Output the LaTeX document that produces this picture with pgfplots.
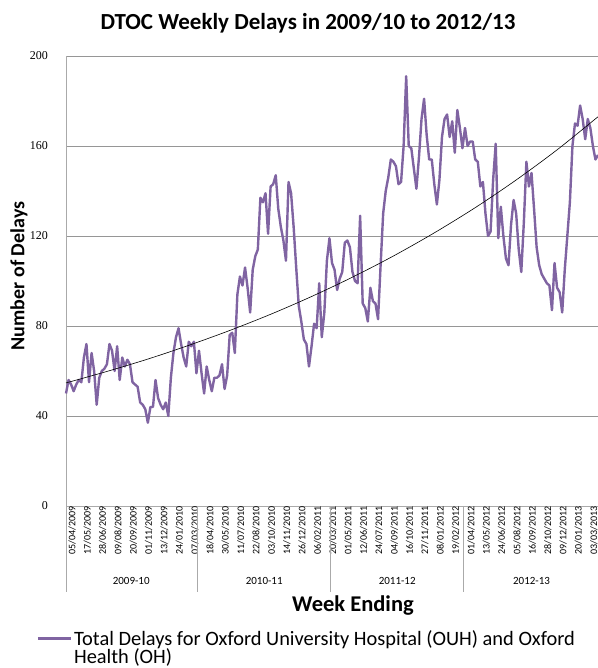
\documentclass[border=0pt]{standalone}
\usepackage{fontspec}
\setmainfont{Carlito}
\newfontfamily\tickserif{Liberation Serif}
\usepackage{pgfplots}
\pgfplotsset{compat=1.18}
\usepackage{pgfplotstable}
\definecolor{ser}{RGB}{128,100,162}
\definecolor{gridc}{RGB}{150,150,150}
\definecolor{axc}{RGB}{170,170,170}

\pgfplotstableread{
w v
0 50
1 56
2 54
3 51
4 54
5 56
6 55
7 66
8 72
9 55
10 68
11 60
12 45
13 57
14 60
15 61
16 63
17 72
18 69
19 60
20 71
21 56
22 66
23 62
24 65
25 63
26 55
27 54
28 53
29 46
30 45
31 43
32 37
33 44
34 44
35 56
36 48
37 45
38 43
39 46
40 40
41 57
42 68
43 75
44 79
45 72
46 66
47 62
48 73
49 71
50 73
51 59
52 69
53 59
54 50
55 62
56 56
57 51
58 57
59 57
60 58
61 63
62 52
63 58
64 76
65 77
66 68
67 94
68 102
69 98
70 106
71 97
72 86
73 105
74 111
75 114
76 137
77 135
78 139
79 121
80 142
81 143
82 147
83 132
84 124
85 118
86 109
87 144
88 139
89 124
90 106
91 89
92 82
93 74
94 72
95 62
96 71
97 81
98 79
99 99
100 75
101 86
102 109
103 119
104 108
105 105
106 96
107 101
108 104
109 117
110 118
111 115
112 104
113 100
114 99
115 129
116 90
117 88
118 82
119 97
120 91
121 90
122 83
123 107
124 130
125 140
126 146
127 154
128 153
129 151
130 143
131 144
132 160
133 191
134 160
135 159
136 150
137 141
138 155
139 172
140 181
141 165
142 154
143 154
144 143
145 134
146 145
147 164
148 172
149 174
150 164
151 171
152 157
153 176
154 168
155 159
156 168
157 160
158 162
159 162
160 154
161 153
162 142
163 144
164 130
165 120
166 122
167 145
168 161
169 119
170 133
171 120
172 110
173 107
174 125
175 136
176 130
177 114
178 104
179 126
180 153
181 142
182 148
183 132
184 115
185 107
186 103
187 101
188 99
189 98
190 87
191 108
192 97
193 95
194 86
195 105
196 120
197 135
198 160
199 170
200 169
201 178
202 172
203 163
204 172
205 168
206 160
207 154
208 156
}\delays

\pgfplotstableread{
w t
0 54.7
16 59.8
32 65.3
48 71.4
64 78.0
80 85.2
96 93.1
112 101.7
128 111.1
144 121.4
160 132.6
176 144.9
192 158.3
208 173.0
}\trend

\begin{document}
\begin{tikzpicture}[x=1bp,y=1bp]
\useasboundingbox (0,0) rectangle (598,668);
\begin{axis}[
  at={(66bp,162bp)}, anchor=south west,
  scale only axis, width=532bp, height=450bp,
  xmin=0, xmax=208, ymin=0, ymax=200,
  axis lines*=left,
  axis line style={draw=axc, line width=0.9bp},
  ymajorgrids, grid style={gridc, line width=0.7bp},
  ytick={0,40,80,120,160,200},
  xtick={0,6,...,204},
  xticklabels={05/04/2009,17/05/2009,28/06/2009,09/08/2009,20/09/2009,01/11/2009,13/12/2009,24/01/2010,07/03/2010,18/04/2010,30/05/2010,11/07/2010,22/08/2010,03/10/2010,14/11/2010,26/12/2010,06/02/2011,20/03/2011,01/05/2011,12/06/2011,24/07/2011,04/09/2011,16/10/2011,27/11/2011,08/01/2012,19/02/2012,01/04/2012,13/05/2012,24/06/2012,05/08/2012,16/09/2012,28/10/2012,09/12/2012,20/01/2013,03/03/2013},
  major tick length=0pt,
  xticklabel style={rotate=90, anchor=east, font=\fontsize{10bp}{12bp}\selectfont, inner sep=0pt, yshift=-6bp},
  yticklabel style={font=\tickserif\fontsize{12bp}{14bp}\selectfont, inner sep=0pt, xshift=-18bp},
  /pgf/number format/assume math mode=true,
  clip=false,
  legend style={draw=none, fill=none, at={(axis description cs:-0.0555,-0.2711)}, anchor=north west,
    font=\fontsize{20.4bp}{23bp}\selectfont, inner sep=0pt, row sep=-2bp, nodes={inner sep=2bp}},
  legend cell align=left,
  legend image code/.code={\draw[#1] (0bp,0bp) -- (33bp,0bp);},
]
\addplot[ser, line width=2.4bp, line join=round] table[x=w,y=v]{\delays};
\addlegendentry{Total Delays for Oxford University Hospital (OUH) and Oxford}
\addlegendimage{empty legend}
\addlegendentry{Health (OH)}
\addplot[black, line width=0.6bp, smooth, forget plot] table[x=w,y=t]{\trend};
\draw[axc, line width=0.9bp] (axis cs:0,0) -- ++(0,-86bp);
\draw[axc, line width=0.9bp] (axis cs:51.5,0) -- ++(0,-86bp);
\draw[axc, line width=0.9bp] (axis cs:103.5,0) -- ++(0,-86bp);
\draw[axc, line width=0.9bp] (axis cs:155.5,0) -- ++(0,-86bp);
\node[font=\fontsize{11bp}{13bp}\selectfont] at ([yshift=-75bp]axis cs:25.5,0) {2009-10};
\node[font=\fontsize{11bp}{13bp}\selectfont] at ([yshift=-75bp]axis cs:77.5,0) {2010-11};
\node[font=\fontsize{11bp}{13bp}\selectfont] at ([yshift=-75bp]axis cs:129.5,0) {2011-12};
\node[font=\fontsize{11bp}{13bp}\selectfont] at ([yshift=-75bp]axis cs:182,0) {2012-13};
\end{axis}
\node[font=\bfseries\fontsize{23bp}{27bp}\selectfont] at (308,645) {DTOC Weekly Delays in 2009/10 to 2012/13};
\node[rotate=90, font=\bfseries\fontsize{20bp}{23bp}\selectfont] at (19,392) {Number of Delays};
\node[font=\bfseries\fontsize{22.5bp}{25bp}\selectfont] at (353,62) {Week Ending};
\end{tikzpicture}
\end{document}
